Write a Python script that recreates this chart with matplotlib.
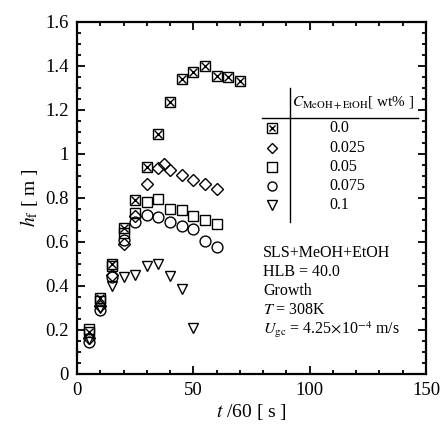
import matplotlib
matplotlib.use("Agg")
import matplotlib.pyplot as plt
from matplotlib.ticker import MultipleLocator, FuncFormatter

plt.rcParams['font.family'] = ['Liberation Serif', 'DejaVu Serif']
plt.rcParams['mathtext.fontset'] = 'stix'

# ---- data ----
t_00 = [5, 10, 15, 20, 25, 30, 35, 40, 45, 50, 55, 60, 65, 70]
h_00 = [0.19, 0.345, 0.50, 0.665, 0.79, 0.94, 1.09, 1.235, 1.34, 1.375, 1.40, 1.355, 1.35, 1.33]

t_025 = [5, 10, 15, 20, 25, 30, 35, 37.5, 40, 45, 50, 55, 60]
h_025 = [0.165, 0.31, 0.45, 0.59, 0.72, 0.865, 0.935, 0.953, 0.927, 0.905, 0.88, 0.865, 0.84]

t_05 = [5, 10, 15, 20, 25, 30, 35, 40, 45, 50, 55, 60]
h_05 = [0.205, 0.33, 0.49, 0.64, 0.73, 0.783, 0.795, 0.75, 0.745, 0.718, 0.70, 0.68]

t_075 = [5, 10, 15, 20, 25, 30, 35, 40, 45, 50, 55, 60]
h_075 = [0.145, 0.29, 0.44, 0.61, 0.69, 0.725, 0.715, 0.69, 0.673, 0.658, 0.605, 0.578]

t_1 = [5, 10, 15, 20, 25, 30, 35, 40, 45, 50]
h_1 = [0.16, 0.30, 0.40, 0.44, 0.45, 0.49, 0.50, 0.445, 0.385, 0.21]

legend_labels = ['0.0', '0.025', '0.05', '0.075', '0.1']
info_lines = ['SLS+MeOH+EtOH', 'HLB = 40.0', 'Growth', '$T$ = 308K',
              r'$U_{\rm gc}$ = 4.25$\times$10$^{-4}$ m/s']

W, H = 441, 425
fig = plt.figure(figsize=(W / 100, H / 100), dpi=100)
ax = fig.add_axes([77 / W, (H - 374) / H, (426 - 77) / W, (374 - 22) / H])

ms = 7.8
mk = dict(linestyle='none', markerfacecolor='none', markeredgecolor='black', markeredgewidth=1.0)

def boxx(x, y):
    ax.plot(x, y, marker='s', markersize=ms, clip_on=False, **mk)
    ax.plot(x, y, marker='x', markersize=ms * 0.65, clip_on=False, **mk)

boxx(t_00, h_00)
ax.plot(t_025, h_025, marker='D', markersize=ms * 0.72, **mk)
ax.plot(t_05, h_05, marker='s', markersize=ms, **mk)
ax.plot(t_075, h_075, marker='o', markersize=ms, **mk)
ax.plot(t_1, h_1, marker='v', markersize=ms, **mk)

ax.set_xlim(0, 150)
ax.set_ylim(0, 1.6)
ax.xaxis.set_major_locator(MultipleLocator(50))
ax.xaxis.set_minor_locator(MultipleLocator(10))
ax.yaxis.set_major_locator(MultipleLocator(0.2))
ax.yaxis.set_minor_locator(MultipleLocator(0.05))
ax.yaxis.set_major_formatter(FuncFormatter(lambda v, p: '%g' % round(v, 2)))
ax.tick_params(which='both', direction='in', top=True, right=True, labelsize=13.5, width=1.3)
ax.tick_params(which='major', length=6, pad=6)
ax.tick_params(which='minor', length=3)
for s in ax.spines.values():
    s.set_linewidth(1.6)

ax.set_xlabel('$t$ /60 [ s ]', fontsize=14, labelpad=2)
ax.set_ylabel(r'$h_{\rm f}$ [ m ]', fontsize=14, labelpad=4)

# legend table
fs = 11.5
ax.text(118.5, 1.232, r'$C_{\rm MeOH+EtOH}$[ wt% ]', fontsize=11, ha='center', va='center')
ax.plot([79.5, 146.5], [1.164, 1.164], color='black', lw=1.0, clip_on=False)
ax.plot([91.5, 91.5], [0.69, 1.30], color='black', lw=1.0)
rows = [1.118, 1.027, 0.941, 0.855, 0.768]
mx = 83.8
lms = 6.5
ax.plot([mx], [rows[0]], marker='s', markersize=lms, **mk)
ax.plot([mx], [rows[0]], marker='x', markersize=lms * 0.65, **mk)
ax.plot([mx], [rows[1]], marker='D', markersize=lms * 0.72, **mk)
ax.plot([mx], [rows[2]], marker='s', markersize=lms, **mk)
ax.plot([mx], [rows[3]], marker='o', markersize=lms, **mk)
ax.plot([mx], [rows[4]], marker='v', markersize=lms, **mk)
for r, lab in zip(rows, legend_labels):
    ax.text(108.3, r, lab, fontsize=fs, ha='left', va='center')

info_y = [0.55, 0.464, 0.377, 0.29, 0.20]
for yy, s in zip(info_y, info_lines):
    ax.text(80, yy, s, fontsize=fs, ha='left', va='center')

fig.savefig('out.png', dpi=100)
